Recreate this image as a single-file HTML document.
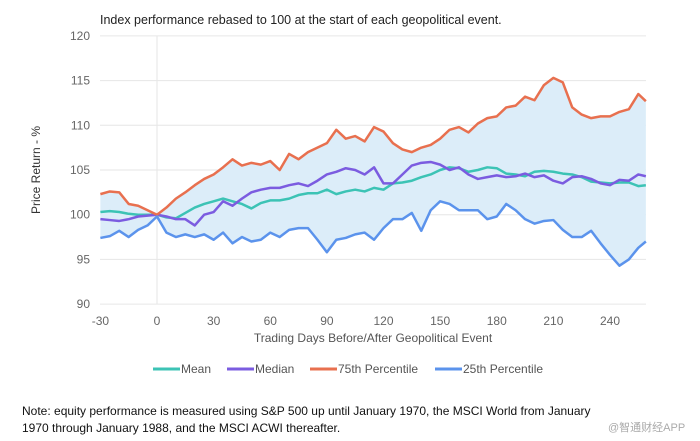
<!DOCTYPE html>
<html><head><meta charset="utf-8"><style>
body{margin:0;width:700px;height:441px;background:#fff;overflow:hidden;font-family:"Liberation Sans","Noto Sans CJK SC",sans-serif;}
svg{position:absolute;left:0;top:0}
</style></head><body>
<svg id="c" width="700" height="441" xmlns="http://www.w3.org/2000/svg">
<text x="100" y="24" font-size="12.5" fill="#222">Index performance rebased to 100 at the start of each geopolitical event.</text>
<text transform="translate(40,170) rotate(-90)" text-anchor="middle" font-size="12" fill="#333">Price Return - %</text>
<text x="373" y="342" text-anchor="middle" font-size="12" fill="#555">Trading Days Before/After Geopolitical Event</text>
<g id="grid"></g><g id="band"></g><g id="lines"></g><g id="ticks"></g><g id="legend"></g>
<text x="22" y="415" font-size="12" fill="#111">Note: equity performance is measured using S&amp;P 500 up until January 1970, the MSCI World from January</text>
<text x="22" y="432" font-size="12" fill="#111">1970 through January 1988, and the MSCI ACWI thereafter.</text>
<text x="608" y="431" font-size="11" fill="#aaa">@智通财经APP</text>
</svg>
<script>
const days=[-30,-25,-20,-15,-10,-5,0,5,10,15,20,25,30,35,40,45,50,55,60,65,70,75,80,85,90,95,100,105,110,115,120,125,130,135,140,145,150,155,160,165,170,175,180,185,190,195,200,205,210,215,220,225,230,235,240,245,250,255,259];
const p75=[102.3,102.6,102.5,101.2,101,100.5,100,100.8,101.8,102.5,103.3,104,104.5,105.3,106.2,105.5,105.8,105.6,106,105,106.8,106.2,107,107.5,108,109.5,108.5,108.8,108.2,109.8,109.3,108,107.3,107,107.5,107.8,108.5,109.5,109.8,109.2,110.2,110.8,111,112,112.2,113.2,112.8,114.5,115.3,114.8,112,111.2,110.8,111,111,111.5,111.8,113.5,112.7];
const median=[99.5,99.4,99.3,99.5,99.8,99.9,100,99.8,99.5,99.5,98.8,100,100.3,101.5,101,101.8,102.5,102.8,103,103,103.3,103.5,103.2,103.8,104.5,104.8,105.2,105,104.5,105.3,103.5,103.5,104.5,105.5,105.8,105.9,105.6,105,105.3,104.5,104,104.2,104.4,104.2,104.3,104.6,104.2,104.4,103.8,103.5,104.2,104.3,104,103.5,103.3,103.9,103.8,104.5,104.3];
const mean=[100.3,100.4,100.3,100.1,100,100,100,99.7,99.6,100.2,100.8,101.2,101.5,101.8,101.5,101.2,100.7,101.3,101.6,101.6,101.8,102.2,102.4,102.4,102.8,102.3,102.6,102.8,102.6,103,102.8,103.5,103.6,103.8,104.2,104.5,105,105.3,105.2,104.8,105,105.3,105.2,104.6,104.5,104.3,104.8,104.9,104.8,104.6,104.5,104.2,103.7,103.6,103.5,103.6,103.6,103.2,103.3];
const p25=[97.4,97.6,98.2,97.5,98.3,98.8,99.8,98,97.5,97.8,97.5,97.8,97.2,98,96.8,97.5,97,97.2,98,97.5,98.3,98.5,98.5,97.2,95.8,97.2,97.4,97.8,98,97.2,98.5,99.5,99.5,100.2,98.2,100.5,101.5,101.2,100.5,100.5,100.5,99.5,99.8,101.2,100.5,99.5,99,99.3,99.4,98.3,97.5,97.5,98.2,96.8,95.5,94.3,95,96.3,97];
const yTicks=[90,95,100,105,110,115,120];
const xTicks=[-30,0,30,60,90,120,150,180,210,240];
const seriesNames=["Mean","Median","75th Percentile","25th Percentile"];
const NS="http://www.w3.org/2000/svg";
const X=d=>157+(d)*1.8875, Y=v=>214.7-(v-100)*8.94;
function mk(t,a,p){const e=document.createElementNS(NS,t);for(const k in a)e.setAttribute(k,a[k]);document.getElementById(p).appendChild(e);return e;}
yTicks.forEach(v=>{
 const l=mk('line',{x1:100,x2:646,y1:Y(v),y2:Y(v),stroke:'#e6e6e6'},'grid');
 
 
 const t=mk('text',{x:90,y:Y(v)+4,'text-anchor':'end','font-size':12,fill:'#666'},'ticks');t.textContent=v;
 
 
});
const vl=mk('line',{x1:X(0),x2:X(0),y1:36,y2:304,stroke:'#e6e6e6'},'grid');


xTicks.forEach(d=>{
 const t=mk('text',{x:X(d),y:325,'text-anchor':'middle','font-size':12,fill:'#666'},'ticks');t.textContent=d;
 
 
});
let bp=days.map((d,i)=>X(d)+','+Y(p75[i])).join(' ')+' '+days.slice().reverse().map((d,j)=>X(d)+','+Y(p25[days.length-1-j])).join(' ');
const band=mk('polygon',{points:bp,fill:'#dcedf9'},'band');


const cols=['#3cc3b5','#7b5ce0','#e8704f','#5b93ec'];
[mean,median,p75,p25].forEach((s,k)=>{
 const l=mk('polyline',{points:days.map((d,i)=>X(d)+','+Y(s[i])).join(' '),fill:'none',stroke:cols[k],'stroke-width':2.5,'stroke-linejoin':'round'},'lines');
 
 
});
const lx=[153,227,310,435];
seriesNames.forEach((n,k)=>{
 const l=mk('line',{x1:lx[k],x2:lx[k]+27,y1:369,y2:369,stroke:cols[k],'stroke-width':3},'legend');
 
 
 const t=mk('text',{x:lx[k]+28,y:373,'font-size':12,fill:'#555'},'legend');t.textContent=n;
 
 
});
</script>
</body></html>
